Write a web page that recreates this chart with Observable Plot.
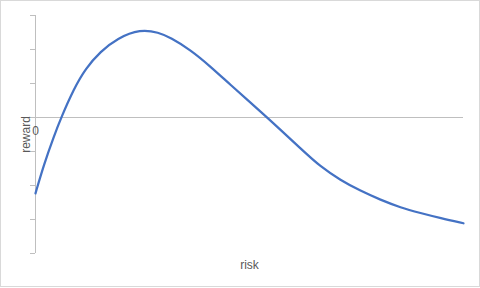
<!DOCTYPE html>
<html>
<head>
<meta charset="utf-8">
<script src="https://cdn.jsdelivr.net/npm/d3@7"></script>
<script src="https://cdn.jsdelivr.net/npm/@observablehq/plot@0.6"></script>
<style>
  html, body { margin: 0; padding: 0; background: #fff; }
  #chart { width: 480px; height: 288px; position: relative; }
  #chart svg { display: block; }
</style>
</head>
<body>
<div id="chart"></div>
<script>
// Risk / reward curve
const risk = [0, 1.94, 4.28, 6.0, 8.95, 11.68, 15.19, 19.09, 24.53, 28.8, 31.54, 36.21, 40.89,
              45.56, 50.23, 54.14, 57.24, 61.92, 66.59, 71.26, 75.93, 80.61, 85.28, 89.95, 94.63, 100];
const reward = [-2.23, -1.39, -0.56, 0, 0.84, 1.44, 1.94, 2.33, 2.6, 2.5, 2.35, 1.99, 1.5,
                0.96, 0.44, 0, -0.36, -0.91, -1.45, -1.84, -2.16, -2.42, -2.65, -2.81, -2.96, -3.11];
const yTicks = [-4, -3, -2, -1, 0, 1, 2, 3];
const xLabels = ["0"];

const data = risk.map((x, i) => ({x, y: reward[i]}));

const axisGray = "#bfbfbf";
const textGray = "#595959";
const font = "Liberation Sans, Arial, sans-serif";

const chart = Plot.plot({
  width: 480,
  height: 288,
  marginLeft: 35,
  marginRight: 17,
  marginTop: 15,
  marginBottom: 35,
  style: {fontFamily: font, background: "#fff"},
  x: {domain: [0, 100], axis: null},
  y: {domain: [-4, 3], axis: null},
  marks: [
    Plot.axisY({ticks: yTicks, tickSize: 5, tickFormat: () => "", label: null, stroke: axisGray, strokeOpacity: 1}),
    Plot.ruleX([0], {y1: -4, y2: 3, stroke: axisGray}),
    Plot.ruleY([0], {x1: 0, x2: 100, stroke: axisGray}),
    Plot.text(xLabels, {x: 0, y: 0, dy: 14, fill: textGray, fontSize: 12, textAnchor: "middle", lineAnchor: "middle"}),
    Plot.line(data, {x: "x", y: "y", stroke: "#4472c4", strokeWidth: 2.25, curve: "basis"}),
    Plot.text(["reward"], {frameAnchor: "left", dx: -9, rotate: -90, fill: textGray, fontSize: 12, textAnchor: "middle", lineAnchor: "middle"}),
    Plot.text(["risk"], {frameAnchor: "bottom", dy: 12, fill: textGray, fontSize: 12, textAnchor: "middle", lineAnchor: "middle"})
  ]
});

// border around the whole chart area
d3.select(chart).insert("rect", ":first-child")
  .attr("x", 0.5).attr("y", 0.5)
  .attr("width", 479).attr("height", 286)
  .attr("fill", "none").attr("stroke", "#d9d9d9");

document.getElementById("chart").appendChild(chart);
</script>
</body>
</html>
